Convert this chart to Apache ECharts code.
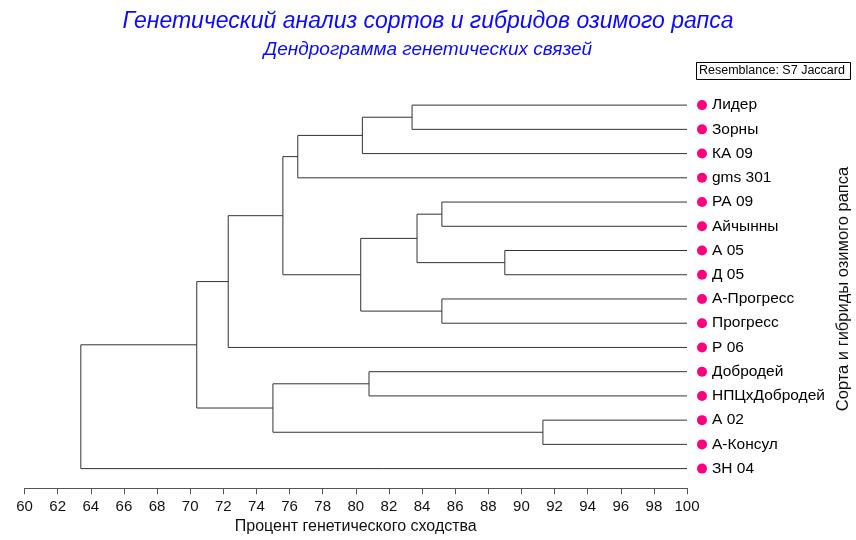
<!DOCTYPE html>
<html>
<head>
<meta charset="utf-8">
<script src="https://cdn.jsdelivr.net/npm/echarts@6/dist/echarts.min.js"></script>
<style>html,body{margin:0;padding:0;background:#fff}#c{width:856px;height:540px}</style>
</head>
<body>
<div id="c"></div>
<script>
// Leaves (top to bottom)
var leaves = ['Лидер','Зорны','КА 09','gms 301','РА 09','Айчынны','А 05','Д 05','А-Прогресс','Прогресс','Р 06','Добродей','НПЦхДобродей','А 02','А-Консул','ЗН 04'];
// Merges: node ids 0..15 are leaves, merge k creates node 16+k
var mergeLeft  = [0, 16, 17, 4, 6, 19, 8, 21, 18, 24, 11, 13, 26, 25, 29];
var mergeRight = [1, 2, 3, 5, 7, 20, 9, 22, 23, 10, 12, 14, 27, 28, 15];
var mergeLevel = [83.4, 80.4, 76.5, 85.2, 89.0, 83.7, 85.2, 80.3, 75.6, 72.3, 80.8, 91.3, 75.0, 70.4, 63.4];
var xTicks = [60, 100, 2];

var FONT = "'Liberation Sans', Arial, sans-serif";

// node positions in data space
var nodeX = [], nodeY = [];
for (var i = 0; i < leaves.length; i++) { nodeX.push(100); nodeY.push(i); }
var links = [];
for (var k = 0; k < mergeLevel.length; k++) {
  var a = mergeLeft[k], b = mergeRight[k], h = mergeLevel[k];
  links.push([nodeX[a], nodeY[a], h, nodeY[b], nodeX[b]]);
  nodeX.push(h); nodeY.push((nodeY[a] + nodeY[b]) / 2);
}
var leafData = leaves.map(function (n, i) { return { value: [100, i], name: n }; });

var gridBox = { left: 24.5, right: 169, top: 93, bottom: 45.7 };
var chart = echarts.init(document.getElementById('c'));
chart.setOption({
  animation: false,
  backgroundColor: '#fff',
  grid: [Object.assign({}, gridBox), Object.assign({}, gridBox)],
  xAxis: [{
    type: 'value', min: xTicks[0], max: xTicks[1], interval: xTicks[2],
    gridIndex: 0, position: 'bottom',
    splitLine: { show: false },
    axisLine: { onZero: false, lineStyle: { color: '#555', width: 1 } },
    axisTick: { length: 6, lineStyle: { color: '#555' } },
    axisLabel: { fontFamily: FONT, fontSize: 15, color: '#111', margin: 11 },
    name: 'Процент генетического сходства', nameLocation: 'middle', nameGap: 31,
    nameTextStyle: { fontFamily: FONT, fontSize: 16, color: '#111' }
  }, {
    type: 'value', min: xTicks[0], max: xTicks[1], interval: xTicks[2],
    gridIndex: 1, position: 'bottom',
    splitLine: { show: false },
    axisLine: { show: false, onZero: false },
    axisTick: { inside: true, length: 5, lineStyle: { color: '#555' } },
    axisLabel: { show: false }
  }],
  yAxis: [
    { type: 'value', gridIndex: 0, min: -0.5, max: 15.8, inverse: true, show: false },
    { type: 'value', gridIndex: 1, min: -0.5, max: 15.8, inverse: true, show: false }
  ],
  series: [{
    type: 'custom',
    clip: false,
    data: links,
    renderItem: function (params, api) {
      var p1 = api.coord([api.value(0), api.value(1)]);
      var p2 = api.coord([api.value(2), api.value(1)]);
      var p3 = api.coord([api.value(2), api.value(3)]);
      var p4 = api.coord([api.value(4), api.value(3)]);
      return {
        type: 'polyline',
        shape: { points: [p1, p2, p3, p4] },
        style: { stroke: '#333', lineWidth: 1, fill: null }
      };
    }
  }, {
    type: 'scatter',
    clip: false,
    data: leafData,
    symbol: 'circle',
    symbolSize: 10,
    symbolOffset: [15, 0],
    itemStyle: { color: '#ff0080', opacity: 1 },
    label: {
      show: true, position: 'right', distance: 5,
      formatter: function (p) { return p.name; },
      fontFamily: FONT, fontSize: 15.5, color: '#000'
    }
  }],
  graphic: [{
    type: 'text', left: 'center', top: 10, z: 10,
    style: { text: 'Генетический анализ сортов и гибридов озимого рапса', font: 'italic 23px ' + FONT, fill: '#0a0aff' }
  }, {
    type: 'text', left: 'center', top: 40, z: 10,
    style: { text: 'Дендрограмма генетических связей', font: 'italic 19px ' + FONT, fill: '#0a0aff' }
  }, {
    type: 'group', left: 696, top: 62,
    children: [{
      type: 'rect', shape: { x: 0.5, y: 0.5, width: 154, height: 17 },
      style: { fill: '#fff', stroke: '#000', lineWidth: 1 }
    }, {
      type: 'text', x: 3, y: 9,
      style: { text: 'Resemblance: S7 Jaccard', font: '12.5px ' + FONT, fill: '#000', verticalAlign: 'middle' }
    }]
  }, {
    type: 'text', x: 843, y: 289, rotation: Math.PI / 2,
    style: { text: 'Сорта и гибриды озимого рапса', font: '16.5px ' + FONT, fill: '#111', align: 'center', verticalAlign: 'middle' }
  }]
});
</script>
</body>
</html>
